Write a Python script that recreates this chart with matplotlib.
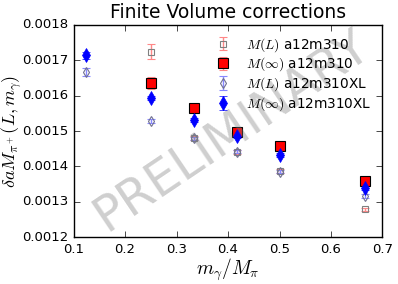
import matplotlib
matplotlib.use("Agg")
from matplotlib import pyplot as plt

plt.style.use("classic")

# a12m310 ensemble
x_a = [0.25, 1 / 3., 5 / 12., 0.5, 2 / 3.]
mL_a = [0.001724, 0.001480, 0.001440, 0.001388, 0.001279]
mL_a_err = [0.000021, 0.000006, 0.000006, 0.000006, 0.000004]
minf_a = [0.001635, 0.001564, 0.001496, 0.001458, 0.001359]
minf_a_err = [0.000017, 0.000008, 0.000006, 0.000005, 0.000005]

# a12m310XL ensemble
x_xl = [0.125, 0.25, 1 / 3., 5 / 12., 0.5, 2 / 3.]
mL_xl = [0.001667, 0.001528, 0.001479, 0.001442, 0.001385, 0.001316]
mL_xl_err = [0.000012, 0.000005, 0.000005, 0.000005, 0.000005, 0.000005]
minf_xl = [0.001715, 0.001593, 0.001531, 0.001487, 0.001432, 0.001338]
minf_xl_err = [0.000010, 0.000006, 0.000006, 0.000006, 0.000006, 0.000006]

yticks = [0.0012, 0.0013, 0.0014, 0.0015, 0.0016, 0.0017, 0.0018]

dpi = 100
fig = plt.figure(figsize=(398 / dpi, 284 / dpi), dpi=dpi, facecolor="white")
ax = fig.add_axes([0.185, 0.165, 0.776, 0.747])

ax.errorbar(x_a, mL_a, yerr=mL_a_err, fmt="s", mfc="none", mec="gray",
            ms=4, mew=0.8, ecolor="#ff8888", capsize=3, label=r"$M(L)$ a12m310")
ax.errorbar(x_a, minf_a, yerr=minf_a_err, fmt="s", mfc="red", mec="black",
            ms=6.5, mew=0.8, ecolor="#ff8888", capsize=3, label=r"$M(\infty)$ a12m310")
ax.errorbar(x_xl, mL_xl, yerr=mL_xl_err, fmt="d", mfc="none", mec="#707090",
            ms=5, mew=0.8, ecolor="#8888ff", capsize=3, label=r"$M(L)$ a12m310XL")
ax.errorbar(x_xl, minf_xl, yerr=minf_xl_err, fmt="d", mfc="blue", mec="blue",
            ms=7, ecolor="blue", capsize=3, label=r"$M(\infty)$ a12m310XL")

ax.set_xlim(0.1, 0.7)
ax.set_ylim(0.0012, 0.0018)
ax.set_xticks([0.1, 0.2, 0.3, 0.4, 0.5, 0.6, 0.7])
ax.set_yticks(yticks)
ax.set_yticklabels(["%.4f" % v for v in yticks])
ax.tick_params(labelsize=9.5)

ax.set_title("Finite Volume corrections", fontsize=13.5)
ax.set_xlabel(r"$m_\gamma/M_\pi$", fontsize=14, labelpad=1)
ax.set_ylabel(r"$\delta a M_{\pi^+}(L,m_\gamma)$", fontsize=13)
ax.yaxis.set_label_coords(-0.16, 0.5)

ax.legend(loc="upper right", frameon=False, numpoints=1, fontsize=9.8,
          handlelength=1.0, handletextpad=1.2, borderaxespad=0.4,
          labelspacing=0.15)

ax.text(0.51, 0.5, "PRELIMINARY", transform=ax.transAxes, fontsize=35,
        color="gray", alpha=0.38, rotation=34, ha="center", va="center")

fig.savefig("out.png", dpi=dpi)
